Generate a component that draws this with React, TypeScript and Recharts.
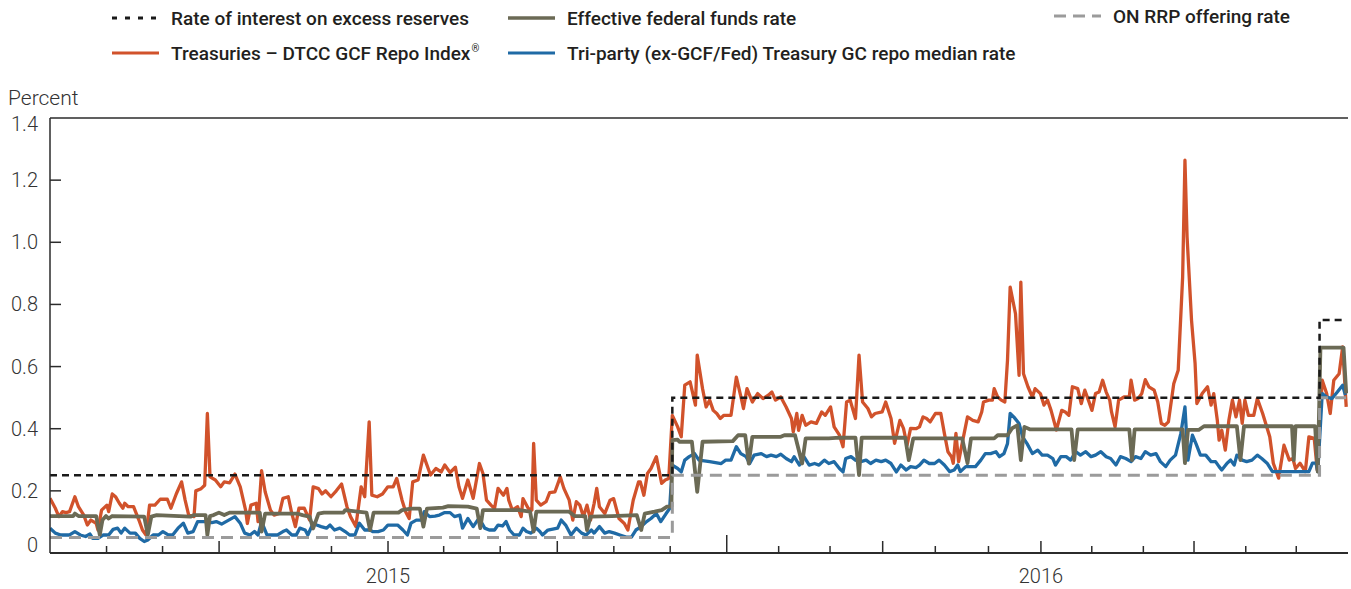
import { LineChart, Line, XAxis, YAxis, ReferenceLine } from "recharts"

// x values are calendar days counted from Jan 1, 2015
const iorRate: [number, number][] = [
  [0, 0.25], [350, 0.25], [350, 0.5], [714, 0.5], [714, 0.75], [729, 0.75],
]

const rrpRate: [number, number][] = [
  [0, 0.05], [350, 0.05], [350, 0.25], [714, 0.25], [714, 0.5], [729, 0.5],
]

const gcfRepo: [number, number][] = [
  [0, 0.176], [3, 0.144], [5, 0.117], [7, 0.133], [9, 0.13], [11, 0.133], [14, 0.181], [16, 0.149],
  [19, 0.122], [21, 0.09], [23, 0.106], [26, 0.095], [27, 0.074], [29, 0.138], [32, 0.154], [33, 0.133],
  [35, 0.19], [37, 0.18], [39, 0.16], [41, 0.144], [42, 0.16], [44, 0.149], [47, 0.149], [50, 0.106],
  [52, 0.074], [54, 0.058], [56, 0.154], [59, 0.154], [62, 0.173], [66, 0.173], [68, 0.144], [71, 0.19],
  [74, 0.229], [76, 0.17], [78, 0.122], [81, 0.117], [82, 0.2], [85, 0.207], [87, 0.218], [88.5, 0.449],
  [90, 0.245], [93, 0.235], [96, 0.213], [98, 0.229], [101, 0.226], [104, 0.254], [107, 0.213], [110, 0.138],
  [111, 0.095], [113, 0.154], [116, 0.16], [117, 0.101], [119, 0.265], [121, 0.197], [124, 0.138], [126, 0.122],
  [129, 0.127], [131, 0.176], [134, 0.181], [136, 0.127], [138, 0.085], [140, 0.144], [143, 0.144], [146, 0.106],
  [148, 0.213], [151, 0.207], [153, 0.19], [155, 0.2], [158, 0.181], [161, 0.2], [164, 0.222], [167, 0.149],
  [169, 0.117], [172, 0.085], [175, 0.213], [177, 0.181], [179.5, 0.422], [181, 0.186], [184, 0.181], [187, 0.19],
  [190, 0.213], [193, 0.213], [195, 0.24], [198, 0.17], [200, 0.133], [202, 0.111], [204, 0.229], [207, 0.235],
  [210, 0.315], [214, 0.251], [217, 0.272], [220, 0.261], [222, 0.283], [225, 0.259], [228, 0.276], [230, 0.213],
  [232, 0.176], [235, 0.235], [238, 0.176], [241.5, 0.288], [243.5, 0.256], [245.5, 0.17], [248, 0.154], [250, 0.143],
  [252, 0.208], [255, 0.186], [257, 0.208], [258, 0.17], [260, 0.138], [263, 0.149], [265, 0.117], [266, 0.175],
  [269, 0.143], [271, 0.138], [272, 0.353], [273.5, 0.17], [276, 0.154], [279, 0.165], [281, 0.194], [284, 0.197],
  [287, 0.245], [289, 0.208], [292, 0.17], [294, 0.106], [296, 0.165], [298, 0.154], [300, 0.117], [302, 0.154],
  [304, 0.106], [306, 0.159], [307.5, 0.208], [309, 0.149], [312, 0.127], [315, 0.17], [317, 0.175], [320, 0.111],
  [323, 0.095], [325, 0.074], [328, 0.17], [331, 0.229], [332, 0.229], [334, 0.186], [336, 0.256], [338, 0.272],
  [341, 0.31], [344, 0.224], [346, 0.235], [348, 0.24], [350, 0.443], [353, 0.406], [355, 0.374], [357, 0.54],
  [360, 0.551], [363, 0.476], [364, 0.637], [367, 0.529], [369, 0.47], [371, 0.492], [373, 0.459], [375, 0.449],
  [377, 0.433], [379, 0.443], [383, 0.443], [386, 0.566], [389, 0.492], [390, 0.465], [392, 0.529], [395, 0.486],
  [398, 0.513], [401, 0.497], [404, 0.508], [406, 0.518], [408, 0.492], [411, 0.502], [414, 0.47], [417, 0.433],
  [418, 0.39], [420, 0.449], [421, 0.395], [423, 0.443], [425, 0.411], [428, 0.422], [431, 0.417], [434, 0.454],
  [436, 0.443], [439, 0.47], [441, 0.406], [444, 0.379], [446, 0.342], [448, 0.486], [450, 0.492], [453, 0.433],
  [455, 0.637], [457, 0.486], [460, 0.465], [462, 0.438], [464, 0.449], [468, 0.454], [470, 0.486], [473, 0.433],
  [475, 0.353], [478, 0.427], [480, 0.401], [482, 0.347], [484, 0.401], [487, 0.4], [489, 0.406], [491, 0.438],
  [493, 0.433], [495, 0.422], [498, 0.449], [501, 0.449], [503, 0.385], [505, 0.326], [507, 0.31], [508, 0.289],
  [509.5, 0.385], [511, 0.294], [513, 0.353], [516, 0.438], [519, 0.427], [522, 0.422], [524, 0.454], [525, 0.486],
  [528, 0.492], [530, 0.492], [531, 0.529], [533, 0.502], [535, 0.492], [537, 0.486], [538.5, 0.62], [540, 0.856],
  [543, 0.77], [545, 0.572], [546, 0.872], [547.5, 0.577], [550, 0.535], [552.5, 0.502], [554, 0.529], [557, 0.513],
  [559, 0.476], [561, 0.492], [563, 0.459], [566, 0.396], [568, 0.438], [569, 0.459], [571, 0.454], [573, 0.443],
  [575, 0.535], [578, 0.529], [580, 0.481], [582, 0.524], [584, 0.492], [586, 0.459], [588, 0.513], [590, 0.518],
  [592, 0.556], [594, 0.518], [596, 0.492], [597, 0.454], [599, 0.406], [601, 0.492], [604, 0.502], [607, 0.502],
  [608, 0.556], [610, 0.492], [612, 0.497], [614, 0.513], [616, 0.558], [618, 0.535], [621, 0.524], [623, 0.486],
  [625, 0.417], [627, 0.411], [629, 0.422], [632, 0.545], [634.5, 0.588], [637, 0.888], [638.3, 1.264], [639.5, 1.017],
  [642, 0.749], [644, 0.61], [645, 0.481], [648, 0.513], [651, 0.535], [653, 0.476], [654.5, 0.513], [656.5, 0.427],
  [657.5, 0.363], [659, 0.395], [661, 0.331], [663, 0.427], [665, 0.492], [667, 0.438], [669, 0.492], [670.5, 0.417],
  [672, 0.492], [674, 0.443], [677, 0.443], [679, 0.497], [682, 0.449], [686, 0.374], [688, 0.289], [691, 0.241],
  [694, 0.347], [697, 0.299], [699, 0.304], [700.5, 0.272], [703, 0.289], [706, 0.262], [708, 0.374], [711, 0.369],
  [712.7, 0.267], [715.5, 0.556], [718, 0.513], [720, 0.449], [722, 0.556], [725, 0.577], [727, 0.663], [729, 0.47],
]

const fedFunds: [number, number][] = [
  [0, 0.119], [13, 0.119], [14, 0.127], [16, 0.119], [26, 0.119], [28, 0.058], [29.5, 0.106], [31.5, 0.119],
  [33, 0.111], [35, 0.119], [53, 0.117], [55, 0.058], [57, 0.117], [60, 0.122], [79, 0.117], [81, 0.122],
  [87.5, 0.122], [88.5, 0.058], [90, 0.119], [92, 0.122], [95, 0.13], [98, 0.122], [101, 0.13], [118, 0.13],
  [119, 0.069], [121, 0.127], [139, 0.127], [142, 0.122], [146, 0.117], [148, 0.079], [151, 0.127], [154, 0.13],
  [165, 0.13], [166, 0.138], [173, 0.133], [178, 0.13], [180, 0.074], [182, 0.13], [196, 0.13], [198, 0.138],
  [203, 0.143], [208, 0.143], [210, 0.085], [212, 0.143], [221, 0.146], [224, 0.151], [235, 0.149], [240, 0.143],
  [242, 0.08], [243.5, 0.138], [264, 0.138], [270, 0.133], [272, 0.069], [273.5, 0.133], [292, 0.133], [295, 0.119],
  [301, 0.119], [302, 0.074], [304, 0.117], [316, 0.119], [330, 0.122], [332.5, 0.074], [334.5, 0.127], [340, 0.133],
  [344, 0.138], [347, 0.149], [349.5, 0.15], [350, 0.363], [353, 0.365], [354, 0.358], [361, 0.358], [364, 0.197],
  [367, 0.358], [384, 0.36], [387, 0.379], [391, 0.379], [393, 0.288], [395, 0.374], [411, 0.374], [413, 0.379],
  [419, 0.379], [423, 0.288], [425, 0.369], [438, 0.369], [444, 0.371], [453, 0.371], [455, 0.251], [456.5, 0.371],
  [481, 0.371], [483, 0.299], [485.5, 0.369], [513, 0.369], [516, 0.289], [518, 0.369], [531, 0.369], [533, 0.379],
  [538.5, 0.379], [541, 0.401], [544, 0.411], [546, 0.299], [548, 0.406], [551, 0.398], [574.5, 0.398], [576, 0.299],
  [578, 0.398], [607, 0.398], [608.5, 0.299], [610, 0.398], [637, 0.398], [638.3, 0.289], [640, 0.396], [646, 0.396],
  [649, 0.408], [667.5, 0.408], [669.5, 0.299], [671.5, 0.408], [698.5, 0.408], [699.5, 0.299], [700.5, 0.408],
  [711.5, 0.408], [713, 0.262], [714.5, 0.661], [727.5, 0.661], [729, 0.514],
]

const triParty: [number, number][] = [
  [0, 0.08], [3, 0.064], [6, 0.058], [11, 0.058], [14, 0.069], [17, 0.058], [20, 0.053], [22.5, 0.061],
  [24, 0.047], [27, 0.047], [30, 0.058], [33, 0.058], [35.5, 0.076], [38, 0.08], [40, 0.064], [42, 0.08],
  [45, 0.064], [48, 0.064], [50.5, 0.047], [53, 0.037], [55, 0.042], [58, 0.058], [61, 0.058], [63.5, 0.069],
  [66.5, 0.058], [69, 0.058], [72, 0.08], [75, 0.096], [77.5, 0.064], [80.5, 0.069], [83, 0.101], [87, 0.101],
  [91, 0.098], [93.5, 0.101], [96.5, 0.093], [99, 0.101], [104, 0.117], [107, 0.096], [109.5, 0.064], [112.5, 0.058],
  [115, 0.069], [117, 0.058], [119, 0.101], [122, 0.058], [128, 0.058], [131, 0.069], [133, 0.074], [136, 0.058],
  [138.5, 0.058], [140.5, 0.08], [143.5, 0.074], [145, 0.058], [148, 0.096], [150, 0.09], [152.5, 0.085], [155.5, 0.08],
  [157.5, 0.09], [160, 0.074], [163, 0.08], [166, 0.069], [168.5, 0.058], [171.5, 0.058], [174, 0.096], [177, 0.074],
  [180, 0.074], [181.5, 0.069], [184.5, 0.069], [187.5, 0.074], [190, 0.09], [195.5, 0.09], [198.5, 0.074], [201, 0.058],
  [203, 0.096], [206, 0.106], [209, 0.106], [210.5, 0.133], [213.5, 0.117], [216.5, 0.119], [219, 0.122], [222, 0.13],
  [225, 0.13], [227.5, 0.117], [230.5, 0.122], [232, 0.08], [235, 0.111], [238, 0.085], [240.5, 0.106], [241.5, 0.11],
  [244.5, 0.08], [247, 0.074], [250, 0.074], [252, 0.09], [254.5, 0.087], [256.5, 0.101], [258.5, 0.074], [261, 0.058],
  [264, 0.058], [266, 0.08], [268, 0.069], [270.5, 0.064], [273.5, 0.08], [275.5, 0.069], [277, 0.058], [280, 0.074],
  [285.5, 0.08], [287.5, 0.106], [290, 0.09], [293, 0.058], [296, 0.08], [299, 0.064], [301.5, 0.058], [304.5, 0.074],
  [306, 0.064], [309, 0.085], [312, 0.064], [314.5, 0.069], [317.5, 0.064], [320.5, 0.058], [324, 0.051], [327, 0.051],
  [329.5, 0.074], [332.5, 0.085], [335.5, 0.101], [338, 0.111], [341, 0.127], [343.5, 0.101], [346.5, 0.127], [348.5, 0.143],
  [350, 0.283], [353, 0.272], [355, 0.261], [357, 0.299], [359.5, 0.31], [362.5, 0.32], [365, 0.299], [371, 0.294],
  [377.5, 0.288], [380, 0.299], [383, 0.299], [386, 0.342], [388.5, 0.32], [391.5, 0.31], [393.5, 0.288], [396, 0.315],
  [400, 0.32], [403, 0.31], [405.5, 0.315], [408.5, 0.31], [411, 0.318], [414, 0.304], [417, 0.294], [418.5, 0.31],
  [421.5, 0.283], [424, 0.31], [427, 0.283], [430, 0.288], [432.5, 0.283], [435.5, 0.299], [438, 0.288], [441, 0.294],
  [444, 0.272], [446, 0.261], [447.5, 0.304], [450.5, 0.31], [453, 0.299], [456, 0.294], [459, 0.299], [461.5, 0.288],
  [464.5, 0.299], [467.5, 0.294], [470, 0.299], [473, 0.288], [476, 0.261], [478.5, 0.283], [481.5, 0.267], [484, 0.278],
  [487, 0.275], [489, 0.283], [491.5, 0.299], [494.5, 0.288], [497.5, 0.288], [500, 0.299], [503, 0.283], [506, 0.262],
  [508.5, 0.267], [510.5, 0.283], [512, 0.262], [515, 0.278], [520.5, 0.278], [523.5, 0.299], [526, 0.32], [529, 0.32],
  [532, 0.326], [534, 0.31], [536.5, 0.32], [538.5, 0.352], [540, 0.449], [542, 0.438], [545, 0.417], [547, 0.374],
  [549.5, 0.352], [552.5, 0.32], [555.5, 0.331], [558, 0.315], [561, 0.315], [564, 0.304], [565.5, 0.283], [568.5, 0.31],
  [571.5, 0.31], [574, 0.299], [577, 0.326], [579.5, 0.315], [582.5, 0.326], [585.5, 0.31], [588, 0.315], [591, 0.326],
  [594, 0.31], [596.5, 0.304], [599.5, 0.283], [602, 0.31], [605, 0.304], [608, 0.294], [610.5, 0.31], [613.5, 0.304],
  [616, 0.326], [619, 0.315], [622, 0.32], [624.5, 0.294], [627.5, 0.278], [630, 0.299], [633, 0.315], [636, 0.385],
  [638.3, 0.47], [640, 0.299], [642.5, 0.379], [644.5, 0.352], [647, 0.315], [650, 0.315], [653, 0.294], [655.5, 0.294],
  [657.5, 0.278], [659, 0.267], [662, 0.289], [664, 0.299], [666, 0.283], [667.5, 0.315], [670.5, 0.299], [673, 0.294],
  [676, 0.299], [679, 0.315], [681.5, 0.304], [684.5, 0.289], [687.5, 0.262], [708, 0.262], [710, 0.289], [712, 0.289],
  [713, 0.262], [715.5, 0.513], [718, 0.502], [721, 0.497], [724, 0.518], [727, 0.54], [728.5, 0.508],
]

const percentTicks = [0, 0.2, 0.4, 0.6, 0.8, 1.0, 1.2, 1.4]
const monthTicks = [
  31.8, 63.3, 95.1, 126.4, 158.3, 190.1, 221.4, 253.2, 285.3, 317.1, 348.8, 380.6,
  409.8, 438.7, 468.3, 497.9, 527.8, 557.3, 585.9, 614.9, 643.4, 672.5, 700.9,
]
const quarterTicks = [95.1, 190.1, 285.3, 468.3, 557.3, 643.4]
const yearStartTick = 380.6
const yearLabels: Record<string, string> = { "190.1": "2015", "557.3": "2016" }

const INK = "#2b2b2b"
const FONT = "Roboto, 'Noto Sans', sans-serif"

const toRows = (pts: [number, number][]) => pts.map(([day, v]) => ({ day, v }))

function DayTick(props: any) {
  const { x, y, payload } = props
  const val = payload.value
  const len = val === yearStartTick ? 18 : quarterTicks.includes(val) ? 12 : 7
  const label = yearLabels[String(val)]
  return (
    <g>
      <line x1={x} x2={x} y1={y} y2={y - len} stroke={INK} strokeWidth={1.5} />
      {label && (
        <text x={x} y={y + 23} textAnchor="middle" dominantBaseline="central"
          fontFamily={FONT} fontWeight={300} fontSize={20} fill="#333">
          {label}
        </text>
      )}
    </g>
  )
}

function LeftTick(props: any) {
  const { x, y, payload } = props
  const val = payload.value
  const shift = val === 0 ? -8 : val === 1.4 ? 6 : 0
  const showLine = val !== 0 && val !== 1.4
  return (
    <g>
      {showLine && <line x1={x} x2={x + 11} y1={y} y2={y} stroke={INK} strokeWidth={1.5} />}
      <text x={x - 12} y={y + shift} textAnchor="end" dominantBaseline="central"
        fontFamily={FONT} fontWeight={300} fontSize={20} fill="#333">
        {val === 0 ? "0" : val.toFixed(1)}
      </text>
    </g>
  )
}

function RightTick(props: any) {
  const { x, y, payload } = props
  if (payload.value === 0 || payload.value === 1.4) return <g />
  return <line x1={x} x2={x - 11} y1={y} y2={y} stroke={INK} strokeWidth={1.5} />
}

function LegendItem({ x, y, label, color, dash, width, mark }: any) {
  return (
    <div style={{ position: "absolute", left: x, top: y - 13, height: 26, display: "flex", alignItems: "center", whiteSpace: "nowrap" }}>
      <svg width={50} height={8} style={{ marginRight: 10 }}>
        <line x1={1} x2={48} y1={4} y2={4} stroke={color} strokeWidth={width} strokeDasharray={dash} />
      </svg>
      <span style={{ fontFamily: FONT, fontWeight: 500, fontSize: 19, color: "#231f20" }}>
        {label}
        {mark && <sup style={{ fontSize: 10, fontWeight: 400, marginLeft: 1 }}>{mark}</sup>}
      </span>
    </div>
  )
}

export default function App() {
  return (
    <div style={{ position: "absolute", left: 0, top: 0, width: 1351, height: 589, background: "#fff" }}>
      <LegendItem x={111} y={18} label="Rate of interest on excess reserves" color="#1a1a1a" dash="5 8" width={3} />
      <LegendItem x={507} y={18} label="Effective federal funds rate" color="#6b6a55" width={3.5} />
      <LegendItem x={1053} y={16} label="ON RRP offering rate" color="#9b9b9b" dash="12 7" width={3} />
      <LegendItem x={111} y={53} label="Treasuries – DTCC GCF Repo Index" mark="®" color="#d1522b" width={3} />
      <LegendItem x={507} y={53} label="Tri-party (ex-GCF/Fed) Treasury GC repo median rate" color="#1f6aa5" width={3} />
      <div style={{ position: "absolute", left: 8, top: 86, fontFamily: FONT, fontWeight: 300, fontSize: 21, color: "#333" }}>
        Percent
      </div>
      <div style={{ position: "absolute", left: 0, top: 0 }}>
        <LineChart width={1351} height={589} margin={{ top: 118, right: 3, bottom: 0, left: 10 }}>
          <XAxis
            type="number"
            dataKey="day"
            domain={[0, 730]}
            ticks={monthTicks}
            interval={0}
            allowDataOverflow
            height={36}
            tickSize={0}
            tickMargin={0}
            tickLine={false}
            axisLine={{ stroke: INK, strokeWidth: 2 }}
            tick={<DayTick />}
          />
          <YAxis
            type="number"
            domain={[0, 1.4]}
            ticks={percentTicks}
            interval={0}
            width={40}
            tickSize={0}
            tickMargin={0}
            tickLine={false}
            axisLine={{ stroke: INK, strokeWidth: 1.5 }}
            tick={<LeftTick />}
          />
          <YAxis
            yAxisId="right"
            orientation="right"
            type="number"
            domain={[0, 1.4]}
            ticks={percentTicks}
            interval={0}
            width={0}
            tickSize={0}
            tickMargin={0}
            tickLine={false}
            axisLine={{ stroke: INK, strokeWidth: 1.5 }}
            tick={<RightTick />}
          />
          <ReferenceLine y={1.4} stroke={INK} strokeWidth={1.5} />
          <Line data={toRows(gcfRepo)} dataKey="v" type="linear" stroke="#d1522b" strokeWidth={3.3}
            dot={false} isAnimationActive={false} strokeLinejoin="round" />
          <Line data={toRows(triParty)} dataKey="v" type="linear" stroke="#1f6aa5" strokeWidth={3.3}
            dot={false} isAnimationActive={false} strokeLinejoin="round" />
          <Line data={toRows(fedFunds)} dataKey="v" type="linear" stroke="#6b6a55" strokeWidth={3.8}
            dot={false} isAnimationActive={false} strokeLinejoin="round" />
          <Line data={toRows(rrpRate)} dataKey="v" type="linear" stroke="#9b9b9b" strokeWidth={3}
            strokeDasharray="12 7" dot={false} isAnimationActive={false} />
          <Line data={toRows(iorRate)} dataKey="v" type="linear" stroke="#1a1a1a" strokeWidth={2.5}
            strokeDasharray="7 5" dot={false} isAnimationActive={false} />
        </LineChart>
      </div>
    </div>
  )
}
